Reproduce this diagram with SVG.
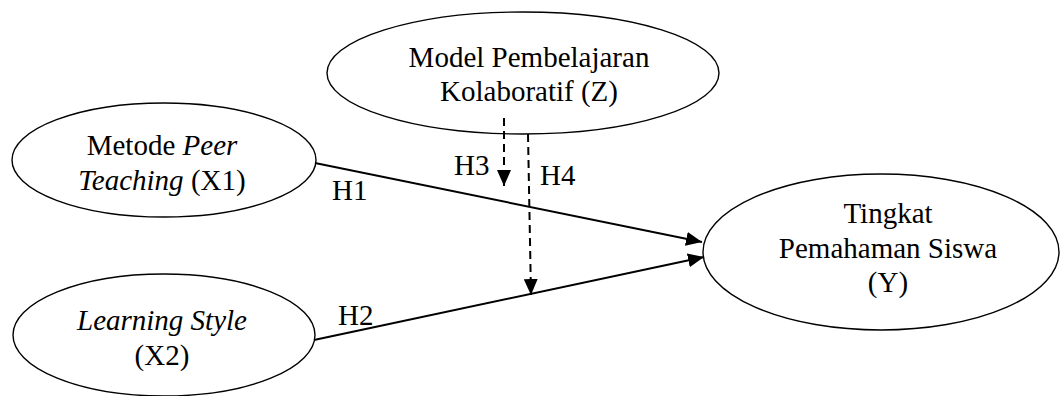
<svg xmlns="http://www.w3.org/2000/svg" width="1061" height="396" viewBox="0 0 1061 396">
<style>
.node{fill:#fff;stroke:#000;stroke-width:1.4}
.e{stroke:#000;stroke-width:2;fill:none}
.d{stroke:#000;stroke-width:2;fill:none;stroke-dasharray:8 5}
</style>
<defs>
<marker id="ah" viewBox="0 0 16 14" refX="16" refY="7" markerWidth="16" markerHeight="14" markerUnits="userSpaceOnUse" orient="auto">
<path d="M0,0 L16,7 L0,14 Z" fill="#000"/>
</marker>
</defs>
<g id="node-z">
<ellipse class="node" cx="523" cy="73" rx="196" ry="61"/>
<text font-family="Times New Roman" font-size="29" text-anchor="middle" x="529" y="67">Model Pembelajaran</text>
<text font-family="Times New Roman" font-size="29" text-anchor="middle" x="529" y="101">Kolaboratif (Z)</text>
</g>
<g id="node-x1">
<ellipse class="node" cx="164" cy="160" rx="152" ry="57"/>
<text font-family="Times New Roman" font-size="29" text-anchor="middle" x="162" y="155">Metode <tspan font-style="italic">Peer</tspan></text>
<text font-family="Times New Roman" font-size="29" text-anchor="middle" x="162" y="190"><tspan font-style="italic">Teaching</tspan> (X1)</text>
</g>
<g id="node-x2">
<ellipse class="node" cx="164" cy="335" rx="151" ry="61"/>
<text font-family="Times New Roman" font-size="29" text-anchor="middle" font-style="italic" x="162" y="330">Learning Style</text>
<text font-family="Times New Roman" font-size="29" text-anchor="middle" x="162" y="365">(X2)</text>
</g>
<g id="node-y">
<ellipse class="node" cx="881" cy="252" rx="178" ry="78"/>
<text font-family="Times New Roman" font-size="29" text-anchor="middle" x="888" y="223">Tingkat</text>
<text font-family="Times New Roman" font-size="29" text-anchor="middle" x="888" y="258">Pemahaman Siswa</text>
<text font-family="Times New Roman" font-size="29" text-anchor="middle" x="888" y="292">(Y)</text>
</g>
<g id="connectors">
<line class="e" x1="315" y1="163" x2="702" y2="242" marker-end="url(#ah)"/>
<line class="e" x1="314" y1="340" x2="704" y2="257" marker-end="url(#ah)"/>
<line class="d" x1="504" y1="118" x2="504" y2="186" marker-end="url(#ah)"/>
<line class="d" x1="528" y1="134" x2="531" y2="295" marker-end="url(#ah)"/>
<text font-family="Times New Roman" font-size="29" x="332" y="200">H1</text>
<text font-family="Times New Roman" font-size="29" x="338" y="325">H2</text>
<text font-family="Times New Roman" font-size="29" x="454" y="175">H3</text>
<text font-family="Times New Roman" font-size="29" x="540" y="185">H4</text>
</g>
</svg>
